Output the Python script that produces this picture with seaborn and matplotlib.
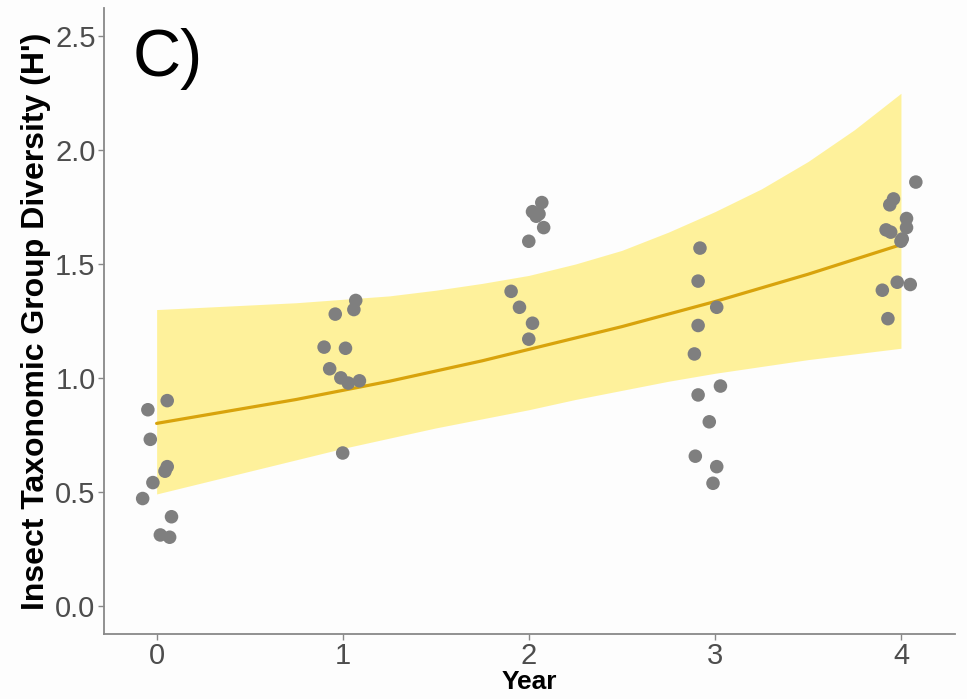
import matplotlib
matplotlib.use("Agg")
import matplotlib.pyplot as plt
import seaborn as sns
import pandas as pd

# ---- data ----
year0_x = [0.057, -0.047, -0.034, 0.057, 0.045, -0.02, -0.075, 0.08, 0.02, 0.07]
year0_y = [0.90, 0.86, 0.73, 0.61, 0.59, 0.54, 0.47, 0.39, 0.31, 0.30]
year1_x = [1.07, 1.06, 0.96, 0.90, 1.015, 0.93, 0.99, 1.03, 1.09, 1.00]
year1_y = [1.34, 1.30, 1.28, 1.135, 1.13, 1.04, 1.00, 0.977, 0.987, 0.67]
year2_x = [2.07, 2.02, 2.055, 2.04, 2.08, 2.00, 1.905, 1.95, 2.02, 2.00]
year2_y = [1.77, 1.73, 1.72, 1.71, 1.66, 1.60, 1.38, 1.31, 1.24, 1.17]
year3_x = [2.92, 2.91, 3.01, 2.91, 2.89, 3.03, 2.91, 2.97, 2.895, 3.01, 2.99]
year3_y = [1.57, 1.425, 1.31, 1.23, 1.105, 0.964, 0.925, 0.807, 0.656, 0.61, 0.537]
year4_x = [4.08, 3.96, 3.94, 4.03, 4.03, 3.92, 3.945, 4.007, 4.00, 3.98, 4.05, 3.90, 3.93]
year4_y = [1.86, 1.786, 1.76, 1.70, 1.66, 1.65, 1.64, 1.61, 1.60, 1.42, 1.41, 1.385, 1.26]

fit_x = [0.0, 0.25, 0.5, 0.75, 1.0, 1.25, 1.5, 1.75, 2.0,
         2.25, 2.5, 2.75, 3.0, 3.25, 3.5, 3.75, 4.0]
fit_y = [0.80, 0.835, 0.87, 0.905, 0.945, 0.985, 1.03, 1.075, 1.125,
         1.175, 1.225, 1.28, 1.335, 1.395, 1.455, 1.52, 1.585]
ci_upper = [1.30, 1.31, 1.32, 1.33, 1.345, 1.36, 1.385, 1.415, 1.45,
            1.50, 1.56, 1.64, 1.73, 1.83, 1.95, 2.09, 2.25]
ci_lower = [0.49, 0.54, 0.59, 0.64, 0.69, 0.735, 0.78, 0.82, 0.86,
            0.905, 0.945, 0.985, 1.02, 1.05, 1.08, 1.105, 1.13]

x_ticks = [0, 1, 2, 3, 4]
y_ticks = [0.0, 0.5, 1.0, 1.5, 2.0, 2.5]
y_tick_labels = ["0.0", "0.5", "1.0", "1.5", "2.0", "2.5"]
panel_label = "C)"
x_label = "Year"
y_label = "Insect Taxonomic Group Diversity (H')"

pts = pd.DataFrame({
    "Year": year0_x + year1_x + year2_x + year3_x + year4_x,
    "H": year0_y + year1_y + year2_y + year3_y + year4_y,
})
fit = pd.DataFrame({"Year": fit_x, "H": fit_y, "lo": ci_lower, "hi": ci_upper})

sns.set_style("white")
plt.rcParams["font.family"] = ["Liberation Sans", "DejaVu Sans"]

bg = "#FDFDFD"
fig = plt.figure(figsize=(9.67, 6.99), dpi=100, facecolor=bg)
ax = fig.add_axes([0.1075, 0.093, 0.880, 0.8957])
ax.set_facecolor(bg)

ax.fill_between(fit["Year"], fit["lo"], fit["hi"], color="#FFF08A", alpha=0.85,
                linewidth=0, zorder=1)
sns.lineplot(data=fit, x="Year", y="H", color="#D8A30C", linewidth=2.3, ax=ax,
             zorder=2)
sns.scatterplot(data=pts, x="Year", y="H", color="#7F7F7F", s=95, edgecolor="none",
                ax=ax, zorder=3)

ax.set_xlim(-0.283, 4.29)
ax.set_ylim(-0.125, 2.625)
ax.set_xticks(x_ticks)
ax.set_yticks(y_ticks)
ax.set_yticklabels(y_tick_labels)
ax.tick_params(axis="both", labelsize=21, labelcolor="#4D4D4D", color="#888888",
               length=4, width=1, direction="out", left=True, bottom=True, pad=2)

for s in ["top", "right"]:
    ax.spines[s].set_visible(False)
for s in ["left", "bottom"]:
    ax.spines[s].set_color("#888888")
    ax.spines[s].set_linewidth(1.3)

ax.set_xlabel(x_label, fontsize=19, fontweight="bold", color="black", labelpad=0)
ax.set_ylabel(y_label, fontsize=23, fontweight="bold", color="black", labelpad=3)

ax.text(-0.13, 2.40, panel_label, fontsize=48, color="black", ha="left",
        va="center")

fig.savefig("out.png", dpi=100, facecolor=bg)
